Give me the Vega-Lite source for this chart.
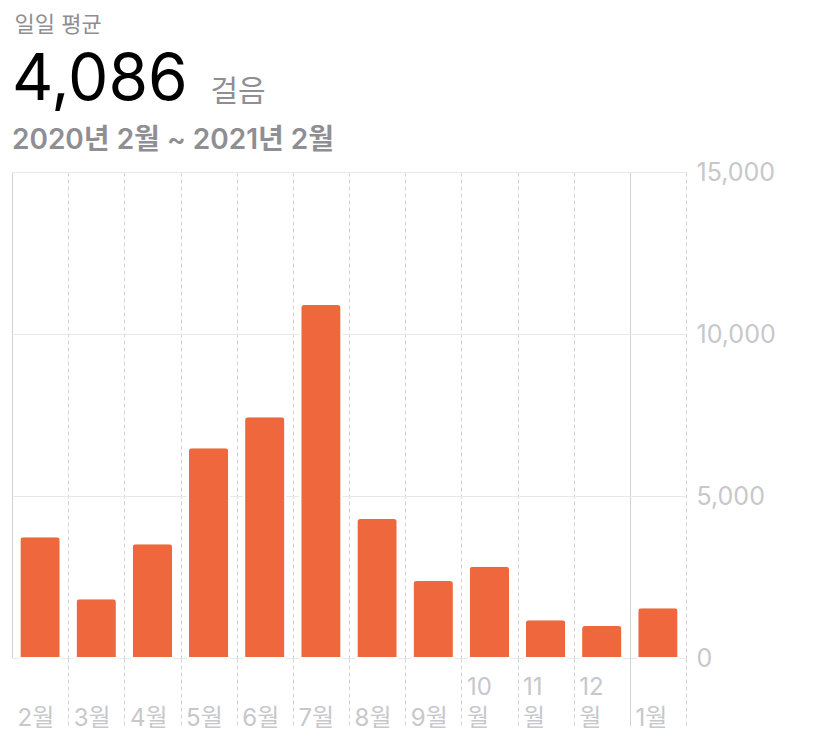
{
  "$schema": "https://vega.github.io/schema/vega-lite/v6.json",
  "width": 674,
  "height": 486,
  "autosize": {"type": "none"},
  "padding": {"left": 12, "top": 172, "right": 128, "bottom": 80},
  "background": "white",
  "title": {
    "text": "4,086",
    "subtitle": "2020년 2월 ~ 2021년 2월",
    "anchor": "start",
    "frame": "group",
    "offset": -142,
    "font": "Inter, Noto Sans CJK KR",
    "fontSize": 64,
    "fontWeight": 400,
    "color": "#000000",
    "subtitleFont": "Inter, Noto Sans CJK KR",
    "subtitleFontSize": 28,
    "subtitleFontWeight": 600,
    "subtitleColor": "#8e8e93",
    "subtitlePadding": 14
  },
  "data": {
    "values": [
      {"month": "2월", "steps": 3756},
      {"month": "3월", "steps": 1843},
      {"month": "4월", "steps": 3540},
      {"month": "5월", "steps": 6503},
      {"month": "6월", "steps": 7460},
      {"month": "7월", "steps": 10926},
      {"month": "8월", "steps": 4321},
      {"month": "9월", "steps": 2407},
      {"month": "10월", "steps": 2849},
      {"month": "11월", "steps": 1194},
      {"month": "12월", "steps": 1019},
      {"month": "1월", "steps": 1565}
    ]
  },
  "mark": {
    "type": "bar",
    "color": "#EF683D",
    "width": {"band": 0.735},
    "cornerRadiusTopLeft": 4,
    "cornerRadiusTopRight": 4,
    "stroke": "white",
    "strokeWidth": 2
  },
  "encoding": {
    "x": {
      "field": "month",
      "type": "ordinal",
      "sort": null,
      "scale": {"paddingInner": 0, "paddingOuter": 0},
      "axis": {
        "orient": "bottom",
        "domain": false,
        "grid": true,
        "tickBand": "extent",
        "gridColor": "#d2d2d2",
        "gridWidth": 1,
        "gridDash": {"condition": {"test": "datum.value === '12월' || datum.extra", "value": []}, "value": [4, 3]},
        "ticks": true,
        "tickSize": 68,
        "tickColor": "#d2d2d2",
        "tickDash": {"condition": {"test": "datum.value === '12월'", "value": []}, "value": [4, 3]},
        "tickOpacity": {"condition": {"test": "datum.extra", "value": 0}, "value": 1},
        "labelAlign": "left",
        "labelBaseline": "top",
        "labelPadding": -51,
        "labelOffset": -23,
        "labelAngle": 0,
        "labelFont": "Inter, Noto Sans CJK KR",
        "labelFontSize": 24,
        "labelColor": "#c7c7cc",
        "labelLineHeight": 31,
        "labelExpr": "isString(datum.value) ? (length(datum.value) > 2 ? [slice(datum.value, 0, 2), '월'] : ['', datum.value]) : ''",
        "title": "일일 평균",
        "titleX": 2,
        "titleY": -627,
        "titleAlign": "left",
        "titleBaseline": "alphabetic",
        "titleAnchor": "start",
        "titleAngle": 0,
        "titleFont": "Inter, Noto Sans CJK KR",
        "titleFontSize": 22,
        "titleFontWeight": 400,
        "titleColor": "#8e8e93"
      }
    },
    "y": {
      "field": "steps",
      "type": "quantitative",
      "scale": {"domain": [0, 15000], "nice": false},
      "axis": {
        "orient": "right",
        "values": [0, 5000, 10000, 15000],
        "format": ",.0f",
        "domain": false,
        "ticks": false,
        "grid": true,
        "gridColor": "#e8e8e8",
        "labelPadding": 10,
        "labelFont": "Inter, Noto Sans CJK KR",
        "labelFontSize": 25,
        "labelColor": "#c7c7cc",
        "labelAlign": "left",
        "labelBaseline": "middle",
        "title": "걸음",
        "titleX": -476,
        "titleY": -72,
        "titleAngle": 0,
        "titleAlign": "left",
        "titleBaseline": "alphabetic",
        "titleFont": "Inter, Noto Sans CJK KR",
        "titleFontSize": 30,
        "titleFontWeight": 400,
        "titleColor": "#8e8e93"
      }
    }
  },
  "config": {"view": {"stroke": null}}
}
